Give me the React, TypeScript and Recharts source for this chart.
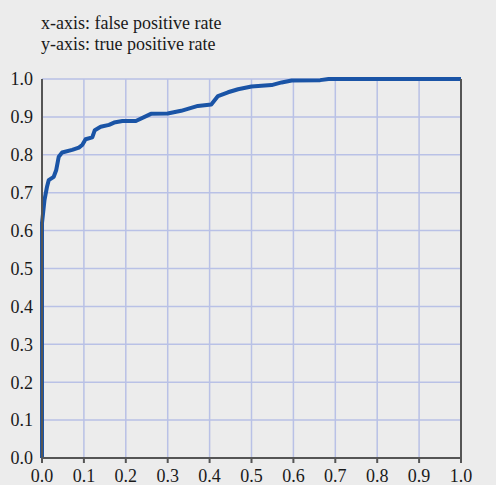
import React from "react";
import { LineChart, Line, XAxis, YAxis, CartesianGrid } from "recharts";

const fprValues = [0, 0, 0.0, 0.003, 0.006, 0.012, 0.016, 0.028, 0.034, 0.04, 0.048, 0.072, 0.088, 0.096, 0.104, 0.12, 0.126, 0.14, 0.16, 0.172, 0.192, 0.224, 0.26, 0.3, 0.332, 0.372, 0.404, 0.42, 0.444, 0.468, 0.5, 0.548, 0.572, 0.596, 0.664, 0.684, 1.0];
const tprValues = [0, 0.56, 0.62, 0.65, 0.681, 0.716, 0.733, 0.742, 0.76, 0.795, 0.806, 0.813, 0.819, 0.826, 0.841, 0.846, 0.865, 0.874, 0.879, 0.885, 0.889, 0.889, 0.908, 0.909, 0.916, 0.929, 0.933, 0.955, 0.965, 0.973, 0.98, 0.984, 0.991, 0.996, 0.997, 1.0, 1.0];
const tickValues = [0, 0.1, 0.2, 0.3, 0.4, 0.5, 0.6, 0.7, 0.8, 0.9, 1.0];
const captionLines = ["x-axis: false positive rate", "y-axis: true positive rate"];

const data = fprValues.map((f, i) => ({ fpr: f, tpr: tprValues[i] }));

const FONT = "'Liberation Serif'";
const fmt = (v: number) => v.toFixed(1);
const tickStyle = { fontFamily: FONT, fontSize: 18, fill: "#1a1a1a" };

export default function App() {
  return (
    <div
      style={{
        position: "absolute",
        left: 0,
        top: 0,
        width: 496,
        height: 485,
        background: "#ececec",
        overflow: "hidden",
        fontFamily: FONT,
      }}
    >
      <div
        style={{
          position: "absolute",
          left: 41,
          top: 13,
          fontFamily: FONT,
          fontSize: 18,
          lineHeight: "21px",
          color: "#1a1a1a",
          whiteSpace: "nowrap",
        }}
      >
        {captionLines.map((l) => (
          <div key={l}>{l}</div>
        ))}
      </div>
      <LineChart
        width={496}
        height={485}
        data={data}
        margin={{ top: 79, right: 0, bottom: 0, left: 0 }}
        style={{ position: "absolute", left: 0, top: 0, fontFamily: FONT }}
      >
        <CartesianGrid stroke="#b9c1e6" strokeWidth={1.5} />
        <XAxis
          type="number"
          dataKey="fpr"
          domain={[0, 1]}
          ticks={tickValues}
          tickFormatter={fmt}
          height={27}
          tickSize={5}
          tickMargin={6}
          tick={tickStyle}
          stroke="#555"
          axisLine={{ stroke: "#555", strokeWidth: 2 }}
          tickLine={{ stroke: "#555", strokeWidth: 2 }}
          interval={0}
        />
        <YAxis
          type="number"
          domain={[0, 1]}
          ticks={tickValues}
          tickFormatter={fmt}
          width={42}
          tickSize={6}
          tickMargin={3}
          tick={tickStyle}
          axisLine={{ stroke: "#555", strokeWidth: 2 }}
          tickLine={false}
          interval={0}
        />
        <YAxis
          yAxisId="right"
          orientation="right"
          type="number"
          domain={[0, 1]}
          ticks={tickValues}
          tickFormatter={fmt}
          width={35}
          tickSize={6}
          tickMargin={4}
          tick={tickStyle}
          axisLine={{ stroke: "#555", strokeWidth: 2 }}
          tickLine={false}
          interval={0}
        />
        <Line
          type="linear"
          dataKey="tpr"
          stroke="#1a54a6"
          strokeWidth={4}
          strokeLinejoin="round"
          dot={false}
          isAnimationActive={false}
        />
      </LineChart>
    </div>
  );
}
